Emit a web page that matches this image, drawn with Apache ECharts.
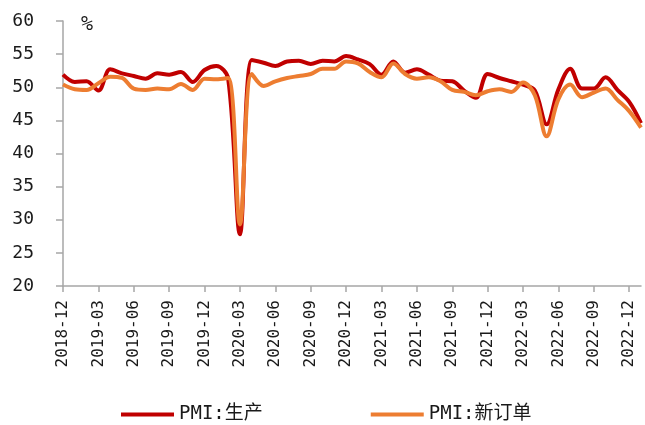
<!DOCTYPE html>
<html>
<head>
<meta charset="utf-8">
<script src="https://cdn.jsdelivr.net/npm/echarts@6/dist/echarts.min.js"></script>
<style>
html, body { margin: 0; padding: 0; background: #fff; }
#chart { width: 645px; height: 425px; }
</style>
</head>
<body>
<div id="chart"></div>
<script>
// 月份（横轴标签）
var months = [
	'2018-12', '2019-01', '2019-02', '2019-03', '2019-04', '2019-05', '2019-06', '2019-07', '2019-08', '2019-09',
	'2019-10', '2019-11', '2019-12', '2020-01', '2020-02', '2020-03', '2020-04', '2020-05', '2020-06', '2020-07',
	'2020-08', '2020-09', '2020-10', '2020-11', '2020-12', '2021-01', '2021-02', '2021-03', '2021-04', '2021-05',
	'2021-06', '2021-07', '2021-08', '2021-09', '2021-10', '2021-11', '2021-12', '2022-01', '2022-02', '2022-03',
	'2022-04', '2022-05', '2022-06', '2022-07', '2022-08', '2022-09', '2022-10', '2022-11', '2022-12', '2023-01'
];

// PMI:生产
var production = [
	51.9, 50.8, 50.9, 49.5, 52.7, 52.1, 51.7, 51.3, 52.1, 51.9,
	52.3, 50.8, 52.6, 53.2, 51.3, 27.8, 54.1, 53.7, 53.2, 53.9,
	54.0, 53.5, 54.0, 53.9, 54.7, 54.2, 53.5, 51.9, 53.9, 52.2,
	52.7, 51.9, 51.0, 50.9, 49.5, 48.4, 52.0, 51.4, 50.9, 50.4,
	49.5, 44.4, 49.7, 52.8, 49.8, 49.8, 51.5, 49.6, 47.8, 44.6
];

// PMI:新订单
var newOrders = [
	50.4, 49.7, 49.6, 50.6, 51.6, 51.4, 49.8, 49.6, 49.8, 49.7,
	50.5, 49.6, 51.3, 51.2, 51.4, 29.3, 52.0, 50.2, 50.9, 51.4,
	51.7, 52.0, 52.8, 52.8, 53.9, 53.6, 52.3, 51.5, 53.6, 52.0,
	51.3, 51.5, 50.9, 49.6, 49.3, 48.8, 49.4, 49.7, 49.3, 50.7,
	48.8, 42.6, 48.2, 50.4, 48.5, 49.2, 49.8, 48.1, 46.4, 43.9
];

var mono = '"DejaVu Sans Mono", monospace';
var axisGrey = '#a6a6a6';

var chart = echarts.init(document.getElementById('chart'));

var option = {
	animation: false,
	backgroundColor: '#fff',
	grid: {
		left: 63,
		right: 4,
		top: 21,
		bottom: 139
	},
	legend: {
		top: 400,
		left: 116,
		itemWidth: 53,
		itemHeight: 4,
		itemGap: 108,
		icon: 'rect',
		textStyle: {
			fontFamily: '"DejaVu Sans Mono", "Noto Sans CJK SC", monospace',
			fontSize: 19,
			color: '#1a1a1a'
		},
		data: ['PMI:生产', 'PMI:新订单']
	},
	graphic: [{
		type: 'text',
		left: 81,
		top: 15,
		style: {
			text: '%',
			font: '20px "DejaVu Sans Mono"',
			fill: '#1a1a1a'
		}
	}],
	xAxis: {
		type: 'category',
		boundaryGap: false,
		data: months,
		axisLine: { lineStyle: { color: axisGrey, width: 1.5 } },
		axisTick: { interval: 2, length: 6, lineStyle: { color: axisGrey, width: 1.5 } },
		axisLabel: {
			interval: 2,
			rotate: 90,
			margin: 14,
			fontFamily: mono,
			fontSize: 16,
			color: '#1a1a1a'
		}
	},
	yAxis: {
		type: 'value',
		min: 20,
		max: 60,
		interval: 5,
		splitLine: { show: false },
		axisLine: { show: true, lineStyle: { color: axisGrey, width: 1.5 } },
		axisTick: { show: true, length: 7, lineStyle: { color: axisGrey, width: 1.5 } },
		axisLabel: {
			margin: 29,
			fontFamily: mono,
			fontSize: 18,
			color: '#1a1a1a'
		}
	},
	series: [{
		name: 'PMI:生产',
		type: 'line',
		data: production,
		smooth: 0.35,
		showSymbol: false,
		lineStyle: { width: 4, color: '#c00000' },
		itemStyle: { color: '#c00000' }
	}, {
		name: 'PMI:新订单',
		type: 'line',
		data: newOrders,
		smooth: 0.35,
		showSymbol: false,
		lineStyle: { width: 4, color: '#ed7d31' },
		itemStyle: { color: '#ed7d31' }
	}]
};

chart.setOption(option);
</script>
</body>
</html>
